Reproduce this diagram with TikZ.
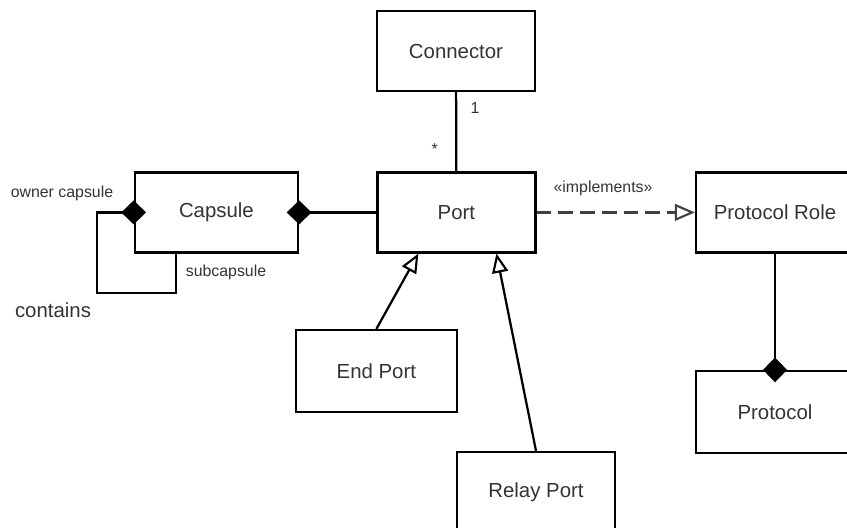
\documentclass[tikz,border=0pt]{standalone}
\usepackage{fontspec}
\setmainfont{Liberation Sans}
\usetikzlibrary{arrows.meta,positioning,calc}

\begin{document}
\begin{tikzpicture}[font=\fontsize{14.5}{17}\selectfont,
 cls/.style={draw,line width=1.6pt,inner sep=0pt,minimum width=3.95cm,minimum height=2cm,text=black!80},
 lbl/.style={font=\fontsize{11.3}{13}\selectfont,text=black!80,inner sep=1pt},
 comp/.style={line width=1.6pt,-{Diamond[length=0.62cm,width=0.6cm]},shorten >=-0.31cm},
 gen/.style={line width=1.6pt,-{Triangle[open,length=0.48cm,width=0.4cm,line width=1.5pt]}},
 real/.style={line width=1.6pt,dash pattern=on 10.5pt off 5pt,black!75,-{Triangle[open,length=0.5cm,width=0.42cm,line width=1.5pt]}}]
\useasboundingbox (0,0) rectangle (21.175,-13.2);
\node[cls] (con) at (11.4,-1.275) {Connector};
\node[cls] (port) at (11.41,-5.31) {Port};
\node[cls,minimum width=4.08cm] (cap) at (5.41,-5.31) {Capsule};
\node[cls] (role) at (19.375,-5.31) {Protocol Role};
\node[cls,minimum height=2.05cm] (proto) at (19.375,-10.3) {Protocol};
\node[cls,minimum width=4.03cm,minimum height=2.05cm] (endp) at (9.41,-9.275) {End Port};
\node[cls] (relay) at (13.4,-12.3) {Relay Port};
% connector multiplicities
\draw[line width=1.6pt] (con) -- node[lbl,pos=0.2,right=0.3cm]{1} node[lbl,pos=0.72,left=0.4cm]{*} (port);
% containment
\draw[comp] (port) -- (cap);
\coordinate (sub) at ([xshift=1.05cm]cap.south west);
\coordinate (loop) at (2.425,-7.325);
\draw[comp] (sub) |- (loop) |- (cap.west);
\node[lbl] (own) at (1.55,-4.825) {owner capsule};
\node[lbl] (subl) at (5.65,-6.8) {subcapsule};
\node[text=black!80] (cont) at (1.325,-7.75) {contains};
% roles and protocols
\draw[real] (port) -- node[lbl,pos=0.42,above=0.35cm]{«implements»} (role);
\draw[comp] (role) -- (proto);
% port kinds
\draw[gen] (endp.north) -- ([xshift=-0.95cm]port.south);
\draw[gen] (relay.north) -- ([xshift=1cm]port.south);
\end{tikzpicture}
\end{document}
